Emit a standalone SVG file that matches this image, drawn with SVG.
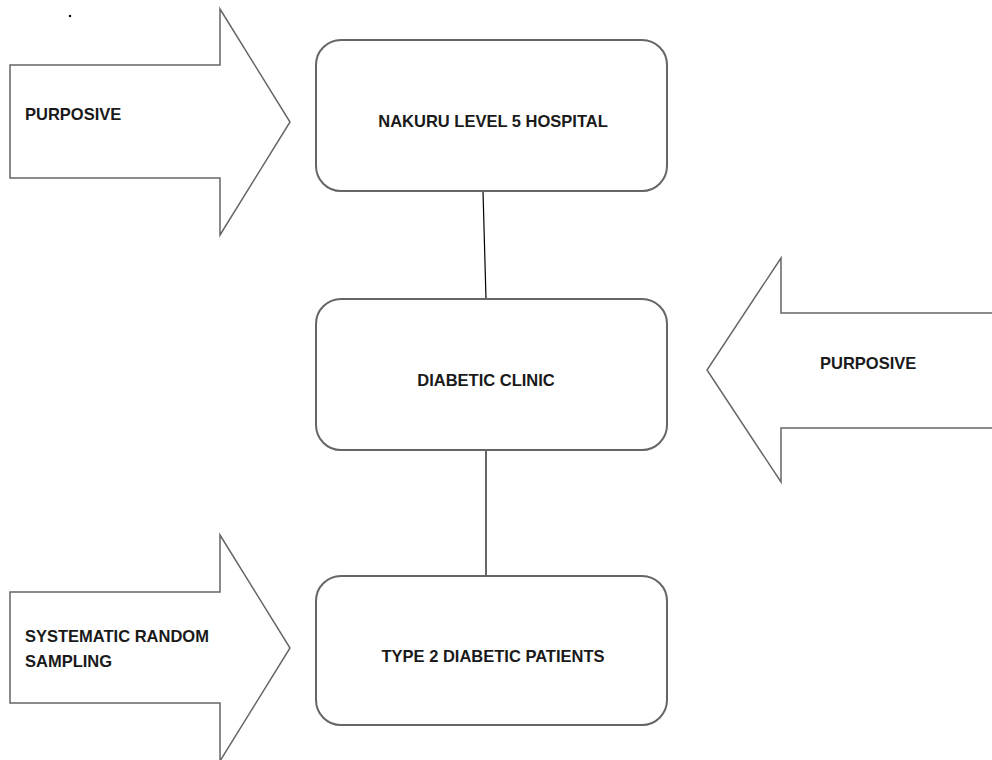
<svg xmlns="http://www.w3.org/2000/svg" width="992" height="760" viewBox="0 0 992 760">
<style>
.box{fill:#fff;stroke:#666;stroke-width:2}
.arrow{fill:#fff;stroke:#666;stroke-width:1.5;stroke-linejoin:miter}
.lbl{font-family:"Liberation Sans",Arial,sans-serif;font-weight:bold;font-size:16.5px;fill:#1a1a1a}
.mid{text-anchor:middle}
.conn{stroke:#000;stroke-width:1.2;fill:none}
</style>
<rect width="992" height="760" fill="#fff"/>
<circle cx="70" cy="16" r="1.2" fill="#000"/>
<g id="connectors">
<line class="conn" x1="483" y1="191" x2="486" y2="299"/>
<line class="conn" x1="486" y1="450" x2="486" y2="576"/>
</g>
<g id="arrow-purposive-1">
<polygon class="arrow" points="10,65 220,65 220,9 290,122 220,235 220,178 10,178"/>
<text class="lbl" x="25" y="120">PURPOSIVE</text>
</g>
<g id="arrow-purposive-2">
<polygon class="arrow" points="1000,313 781,313 781,258 707,370 781,482 781,428 1000,428"/>
<text class="lbl" x="820" y="369">PURPOSIVE</text>
</g>
<g id="arrow-systematic">
<polygon class="arrow" points="10,592 220,592 220,535 290,648 220,761 220,703 10,703"/>
<text class="lbl" x="25" y="642">SYSTEMATIC RANDOM</text>
<text class="lbl" x="25" y="667">SAMPLING</text>
</g>
<g id="node-hospital">
<rect class="box" x="316" y="40" width="351" height="151" rx="25"/>
<text class="lbl mid" x="493" y="127">NAKURU LEVEL 5 HOSPITAL</text>
</g>
<g id="node-clinic">
<rect class="box" x="316" y="299" width="351" height="151" rx="25"/>
<text class="lbl mid" x="486" y="386">DIABETIC CLINIC</text>
</g>
<g id="node-patients">
<rect class="box" x="316" y="576" width="351" height="149" rx="25"/>
<text class="lbl mid" x="493" y="662">TYPE 2 DIABETIC PATIENTS</text>
</g>
</svg>
